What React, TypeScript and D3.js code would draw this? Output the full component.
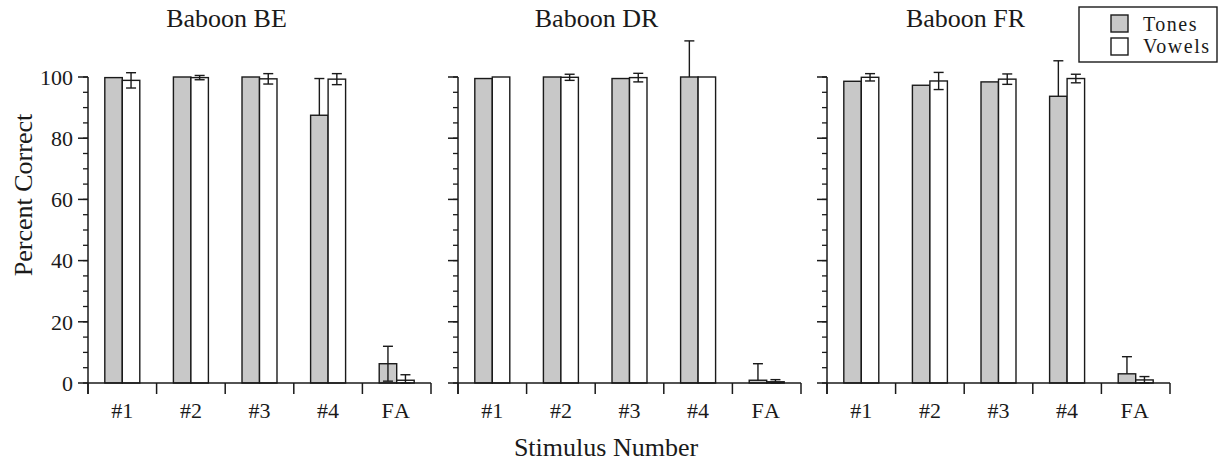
import React from "react";
import * as d3 from "d3";

const categories = ["#1", "#2", "#3", "#4", "FA"];
const panelTitles = ["Baboon BE", "Baboon DR", "Baboon FR"];

const tonesBE = [99.8, 100, 100, 87.5, 6.3];
const tonesBEErrHi = [0, 0, 0, 12, 5.7];
const tonesBEErrLo = [0, 0, 0, 0, 5.7];
const vowelsBE = [98.9, 99.8, 99.4, 99.3, 0.9];
const vowelsBEErr = [2.5, 0.7, 1.7, 1.8, 1.8];

const tonesDR = [99.5, 100, 99.5, 100, 0.9];
const tonesDRErrHi = [0, 0, 0, 11.8, 5.4];
const tonesDRErrLo = [0, 0, 0, 0, 0];
const vowelsDR = [100, 99.9, 99.8, 100, 0.4];
const vowelsDRErr = [0, 1.0, 1.4, 0, 0.7];

const tonesFR = [98.6, 97.3, 98.4, 93.7, 3.0];
const tonesFRErrHi = [0, 0, 0, 11.6, 5.6];
const tonesFRErrLo = [0, 0, 0, 0, 0];
const vowelsFR = [99.9, 98.7, 99.3, 99.5, 1.0];
const vowelsFRErr = [1.2, 2.8, 1.7, 1.4, 1.1];

const yMajorTicks = [0, 20, 40, 60, 80, 100];
const yMinorTicks = d3.range(0, 101, 5);

const seriesNames = ["Tones", "Vowels"];

const panels = [
  { title: panelTitles[0], tones: tonesBE, tHi: tonesBEErrHi, tLo: tonesBEErrLo, vowels: vowelsBE, vErr: vowelsBEErr },
  { title: panelTitles[1], tones: tonesDR, tHi: tonesDRErrHi, tLo: tonesDRErrLo, vowels: vowelsDR, vErr: vowelsDRErr },
  { title: panelTitles[2], tones: tonesFR, tHi: tonesFRErrHi, tLo: tonesFRErrLo, vowels: vowelsFR, vErr: vowelsFRErr },
];

const W = 1221;
const H = 463;
const FONT = "'Liberation Serif', 'Times New Roman', serif";
const GRAY = "#c8c8c8";
const INK = "#1a1a1a";
const panelLeft = [88, 458, 827];
const panelWidth = 343;

export default function App() {
  const y = d3.scaleLinear().domain([0, 100]).range([383, 77]);
  const y0 = y(0);
  const cap = 5;

  const errBar = (cx: number, lo: number, hi: number, key: string, topCap: boolean, botCap: boolean) => (
    <g key={key} stroke={INK} strokeWidth={1.4}>
      <line x1={cx} x2={cx} y1={y(lo)} y2={y(hi)} />
      {topCap && <line x1={cx - cap} x2={cx + cap} y1={y(hi)} y2={y(hi)} />}
      {botCap && <line x1={cx - cap} x2={cx + cap} y1={y(lo)} y2={y(lo)} />}
    </g>
  );

  return (
    <svg width={W} height={H} style={{ position: "absolute", left: 0, top: 0, background: "#fff" }} fontFamily={FONT}>
      {panels.map((p, pi) => {
        const x0 = panelLeft[pi];
        const x = d3.scaleBand().domain(categories).range([x0, x0 + panelWidth]).padding(0);
        const bw = x.step() * 0.255;
        const boundaries = categories.map((c) => x(c) as number).concat([x0 + panelWidth]);
        return (
          <g key={p.title}>
            <text x={x0 + panelWidth / 2 - 33} y={27} fontSize={26} textAnchor="middle" fill={INK}>
              {p.title}
            </text>
            {categories.map((c, i) => {
              const cx = (x(c) as number) + x.step() / 2;
              const tv = p.tones[i];
              const vv = p.vowels[i];
              return (
                <g key={c}>
                  <rect x={cx - bw} y={y(tv)} width={bw} height={y0 - y(tv)} fill={GRAY} stroke={INK} strokeWidth={1.4} />
                  <rect x={cx} y={y(vv)} width={bw} height={y0 - y(vv)} fill="#fff" stroke={INK} strokeWidth={1.4} />
                  {p.tHi[i] > 0 && errBar(cx - bw / 2, tv - p.tLo[i], tv + p.tHi[i], "te", true, p.tLo[i] > 0)}
                  {p.vErr[i] > 0 && errBar(cx + bw / 2, Math.max(0, vv - p.vErr[i]), vv + p.vErr[i], "ve", true, true)}
                </g>
              );
            })}
            {/* y axis */}
            <line x1={x0} x2={x0} y1={y(100)} y2={y0 + 11} stroke={INK} strokeWidth={1.5} />
            {yMinorTicks.map((t) => (
              <line key={"m" + t} x1={x0 - 5} x2={x0} y1={y(t)} y2={y(t)} stroke={INK} strokeWidth={1.3} />
            ))}
            {yMajorTicks.map((t) => (
              <line key={"M" + t} x1={x0 - 10} x2={x0} y1={y(t)} y2={y(t)} stroke={INK} strokeWidth={1.5} />
            ))}
            {pi === 0 &&
              yMajorTicks.map((t) => (
                <text key={"l" + t} x={x0 - 15} y={y(t)} dy="0.35em" fontSize={22} textAnchor="end" fill={INK}>
                  {t}
                </text>
              ))}
            {/* x axis */}
            <line x1={x0} x2={x0 + panelWidth} y1={y0} y2={y0} stroke={INK} strokeWidth={1.5} />
            {boundaries.map((bx, i) => (
              <line key={"b" + i} x1={bx} x2={bx} y1={y0} y2={y0 + 11} stroke={INK} strokeWidth={1.5} />
            ))}
            {categories.map((c) => (
              <text key={"x" + c} x={(x(c) as number) + x.step() / 2} y={418} fontSize={22} textAnchor="middle" fill={INK} letterSpacing={c === "FA" ? 2 : 0}>
                {c}
              </text>
            ))}
          </g>
        );
      })}
      <text transform="translate(32,195) rotate(-90)" fontSize={26} textAnchor="middle" fill={INK}>
        Percent Correct
      </text>
      <text x={606} y={456} fontSize={26} textAnchor="middle" fill={INK}>
        Stimulus Number
      </text>
      {/* legend */}
      <g>
        <rect x={1079} y={7} width={138} height={55} fill="#fff" stroke={INK} strokeWidth={1.4} />
        {seriesNames.map((s, i) => (
          <g key={s}>
            <rect x={1111} y={15 + i * 23} width={17} height={17} fill={i === 0 ? GRAY : "#fff"} stroke={INK} strokeWidth={1.4} />
            <text x={1143} y={31 + i * 22} fontSize={20} letterSpacing={1.5} fill={INK}>
              {s}
            </text>
          </g>
        ))}
      </g>
    </svg>
  );
}
